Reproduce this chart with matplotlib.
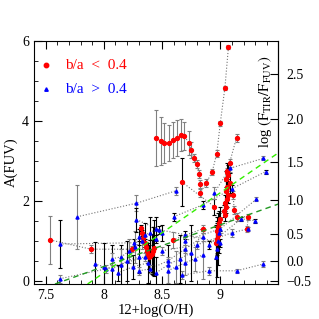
import numpy as np
import matplotlib
matplotlib.use("Agg")
import matplotlib.pyplot as plt

plt.rcParams['font.family'] = ['Liberation Serif', 'DejaVu Serif']
plt.rcParams['mathtext.fontset'] = 'stix'

# radial profiles: (12+log(O/H), A(FUV), error) per galaxy
red_profiles = [
    [(9.07, 5.84, 0.05), (9.04, 4.83, 0.05), (9.00, 3.94, 0.06), (8.97, 3.18, 0.08),
     (8.93, 2.72, 0.08), (8.88, 2.45, 0.10), (8.83, 2.20, 0.10)],
    [(8.45, 3.56, 0.70), (8.49, 3.49, 0.60), (8.52, 3.45, 0.50), (8.56, 3.45, 0.45),
     (8.59, 3.51, 0.45), (8.63, 3.56, 0.45), (8.66, 3.64, 0.40), (8.69, 3.62, 0.35),
     (8.73, 3.45, 0.30), (8.75, 3.27, 0.20), (8.77, 3.08, 0.10), (8.80, 2.93, 0.10),
     (8.82, 2.67, 0.10), (8.83, 2.43, 0.10)],
    [(9.14, 3.58, 0.10), (9.08, 2.95, 0.10), (9.06, 2.72, 0.10)],
    [(9.06, 2.75, 0.20), (9.07, 2.65, 0.25), (9.05, 2.55, 0.20), (9.08, 2.45, 0.25),
     (9.06, 2.35, 0.20), (9.05, 2.25, 0.25), (9.07, 2.15, 0.20), (9.06, 2.05, 0.20),
     (9.04, 1.95, 0.20), (9.05, 1.85, 0.15), (9.03, 1.75, 0.15), (9.04, 1.65, 0.15)],
    [(9.11, 2.14, 0.10), (9.12, 1.77, 0.10), (9.14, 1.60, 0.10), (9.24, 1.60, 0.08),
     (9.23, 1.30, 0.08)],
    [(9.00, 1.55, 0.30), (8.99, 1.45, 0.30), (8.98, 1.35, 0.35), (8.97, 1.25, 0.35),
     (8.98, 1.15, 0.35), (8.97, 1.05, 0.40), (8.96, 0.95, 0.40)],
    [(8.32, 1.32, 0.08), (8.33, 1.20, 0.08), (8.34, 1.08, 0.10), (8.35, 0.95, 0.10),
     (8.36, 0.85, 0.12), (8.37, 0.74, 0.15), (8.38, 0.65, 0.20), (8.39, 0.60, 0.30),
     (8.40, 0.62, 0.40), (8.41, 0.68, 0.50), (8.42, 0.75, 0.60), (8.43, 0.82, 0.70)],
    [(7.54, 1.02, 0.60), (7.89, 0.79, 0.10), (8.24, 0.79, 0.08)],
    [(8.67, 2.47, 0.60), (8.95, 1.85, 0.20)],
    [(8.59, 1.02, 0.20), (8.85, 1.30, 0.10)],
]
red_ecolors = ['0.5', '0.5', '0.5', 'k', '0.5', 'k', 'k', '0.5', 'k', '0.5']

blue_profiles = [
    [(7.77, 1.60, 0.80), (8.28, 1.94, 0.20), (8.62, 2.25, 0.10)],
    [(7.62, 0.92, 0.60), (8.26, 0.95, 0.10), (8.45, 1.05, 0.10)],
    [(7.62, 0.05, 0.10), (8.02, 0.30, 0.10), (8.35, 0.60, 0.10)],
    [(7.92, 0.43, 0.55), (8.00, 0.35, 0.60), (8.07, 0.30, 0.60), (8.15, 0.40, 0.50),
     (8.20, 0.50, 0.50), (8.30, 0.60, 0.40)],
    [(8.07, 0.55, 0.15), (8.15, 0.60, 0.20), (8.22, 0.75, 0.30), (8.27, 0.85, 0.40),
     (8.33, 1.00, 0.20)],
    [(8.28, 1.53, 0.30), (8.47, 1.28, 0.10), (8.70, 1.15, 0.10), (9.00, 0.95, 0.10)],
    [(8.67, 0.14, 0.10), (8.90, 0.25, 0.10), (9.14, 0.25, 0.05), (9.37, 0.42, 0.08)],
    [(8.45, 0.20, 0.40), (8.55, 0.40, 0.50), (8.65, 0.55, 0.60), (8.75, 0.70, 0.70)],
    [(8.95, 2.20, 0.15), (9.08, 2.81, 0.10), (9.37, 3.06, 0.05)],
    [(8.60, 1.60, 0.10), (8.85, 1.90, 0.10), (9.10, 2.30, 0.10), (9.39, 2.73, 0.05)],
    [(8.70, 1.00, 0.10), (9.00, 1.30, 0.10), (9.31, 2.04, 0.05)],
    [(8.90, 0.90, 0.10), (9.18, 1.55, 0.05), (9.30, 1.50, 0.05)],
    [(8.50, 0.75, 0.10), (8.80, 0.90, 0.10), (9.10, 1.20, 0.10), (9.24, 1.30, 0.05)],
    [(8.30, 1.10, 0.20), (8.35, 1.15, 0.30), (8.40, 1.20, 0.40), (8.45, 1.30, 0.30),
     (8.50, 1.20, 0.20)],
    [(8.55, 0.25, 0.30), (8.62, 0.35, 0.40), (8.70, 0.45, 0.30), (8.78, 0.55, 0.30),
     (8.85, 0.65, 0.60)],
    [(8.97, 0.80, 0.70), (8.98, 1.00, 0.60), (8.96, 0.60, 0.80), (8.99, 1.20, 0.50)],
    [(8.30, 0.25, 0.10), (8.40, 0.30, 0.10), (8.55, 0.50, 0.10), (8.70, 0.80, 0.10),
     (8.85, 1.10, 0.10)],
    [(8.12, 0.20, 0.20), (8.25, 0.35, 0.30), (8.38, 0.45, 0.50)],
]

# dashed relations
bright_x = [7.86, 9.50]
bright_y = [-0.08, 3.20]
dark_x = [7.58, 9.50]
dark_y = [-0.08, 1.92]

# right axis conversion (A_FUV as a cubic in log(F_TIR/F_FUV))
poly = [-0.0333, 0.3522, 1.1960, 0.4967]
right_ticks = [-0.5, 0.0, 0.5, 1.0, 1.5, 2.0, 2.5]

fig = plt.figure(figsize=(3.19, 3.19), dpi=100)
ax = fig.add_axes([0.1066, 0.1097, 0.7664, 0.7627])

for prof, ec in zip(red_profiles, red_ecolors):
    x, y, e = np.array(prof).T
    ax.plot(x, y, ls=':', color='0.45', lw=0.8, zorder=1)
    ax.errorbar(x, y, yerr=e, fmt='none', ecolor=ec,
                elinewidth=0.8, capsize=1.5, capthick=0.8, zorder=2)
    ax.plot(x, y, 'o', color='red', ms=2.8, mec='red', zorder=3)

for i, prof in enumerate(blue_profiles):
    x, y, e = np.array(prof).T
    ax.plot(x, y, ls=':', color='0.45', lw=0.8, zorder=1)
    ax.errorbar(x, y, yerr=e, fmt='none', ecolor='k' if i % 2 else '0.5',
                elinewidth=0.8, capsize=1.5, capthick=0.8, zorder=2)
    ax.plot(x, y, '^', color='blue', ms=2.2, mec='blue', zorder=3)

ax.plot(bright_x, bright_y, ls=(0, (4, 3)), color='#33ee00', lw=1.0, zorder=4)
ax.plot(dark_x, dark_y, ls=(0, (4, 3)), color='#229922', lw=1.0, zorder=4)

ax.set_xlim(7.4, 9.5)
ax.set_ylim(-0.08, 6)
ax.set_xticks([7.5, 8, 8.5, 9])
ax.set_xticklabels(['7.5', '8', '8.5', '9'])
ax.set_xticks(np.arange(7.4, 9.5, 0.1), minor=True)
ax.set_yticks([0, 2, 4, 6])
ax.set_yticks(np.arange(0, 6.01, 0.5), minor=True)
ax.tick_params(which='both', direction='in', top=True, right=False, labelsize=10)
ax.tick_params(which='major', length=6)
ax.tick_params(which='minor', length=3)
ax.set_xlabel('12+log(O/H)', fontsize=10.5, labelpad=1)
ax.set_ylabel('A(FUV)', fontsize=10.5, labelpad=3)

lgrid = np.linspace(-1.5, 3.5, 2001)
agrid = np.polyval(poly, lgrid)
sec = ax.secondary_yaxis('right', functions=(lambda a: np.interp(a, agrid, lgrid),
                                              lambda l: np.polyval(poly, l)))
sec.set_yticks(right_ticks)
sec.set_yticklabels(['\u22120.5', '0.0', '0.5', '1.0', '1.5', '2.0', '2.5'])
sec.tick_params(direction='in', length=6, labelsize=10, pad=6)
ax.text(0.945, 0.75, r'log $(\mathrm{F_{TIR}/F_{FUV}})$', rotation=90,
        transform=ax.transAxes, ha='center', va='center', fontsize=10.5)

ax.plot([0.049], [0.90], 'o', color='red', ms=3.2, transform=ax.transAxes)
ax.text(0.125, 0.90, 'b/a  <  0.4', color='red', transform=ax.transAxes,
        va='center', fontsize=11)
ax.plot([0.049], [0.80], '^', color='blue', ms=2.5, transform=ax.transAxes)
ax.text(0.125, 0.80, 'b/a  >  0.4', color='blue', transform=ax.transAxes,
        va='center', fontsize=11)

fig.savefig('out.png', dpi=100)
